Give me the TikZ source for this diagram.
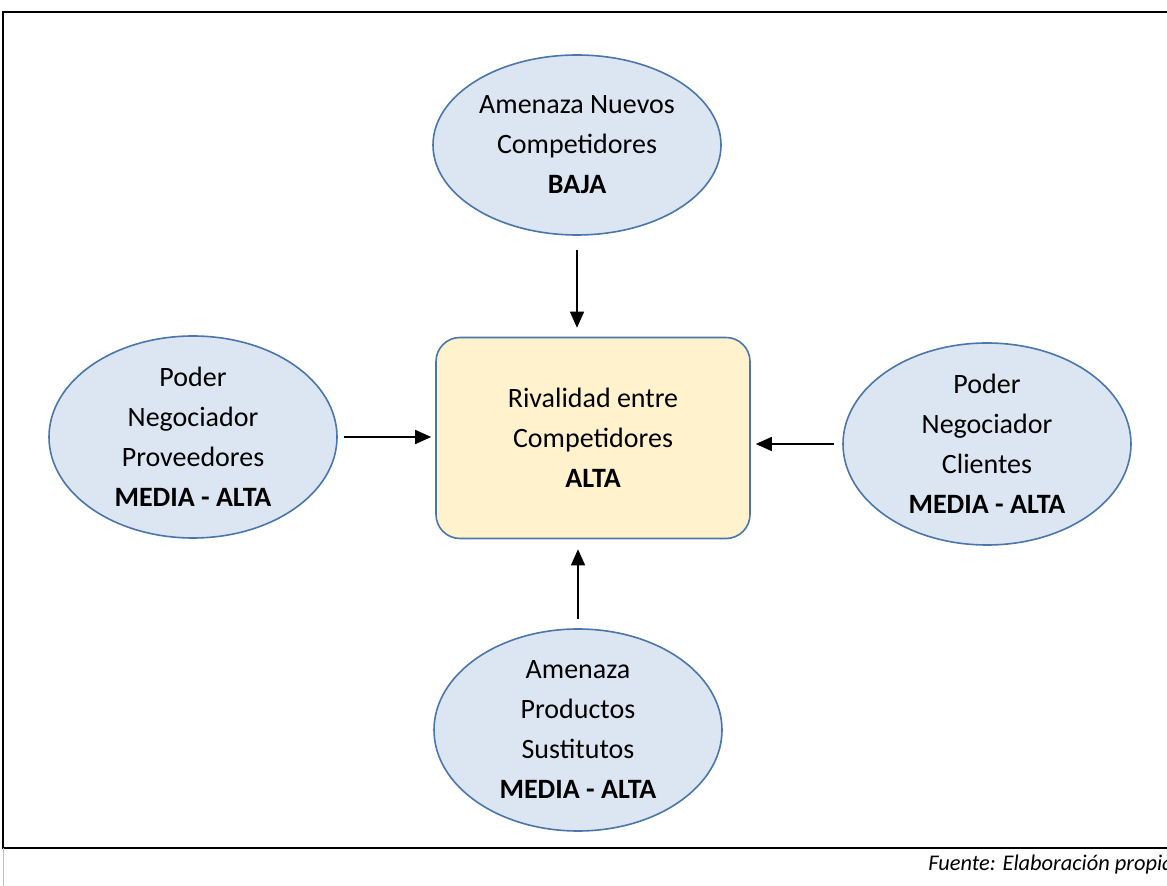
\documentclass[tikz,border=0pt]{standalone}
\usepackage{fontspec}
\setmainfont{Carlito}
\usetikzlibrary{arrows.meta,shapes.geometric}
\definecolor{elfill}{RGB}{220,230,242}
\definecolor{eldraw}{RGB}{74,118,170}
\definecolor{boxfill}{RGB}{255,242,204}

\begin{document}
\begin{tikzpicture}[
  x=0.5pt, y=-0.5pt, >={Triangle[length=8pt,width=7pt]},
  f/.style={ellipse, draw=eldraw, line width=0.8pt, fill=elfill, align=center,
            minimum width=144pt, minimum height=101pt, inner sep=0pt,
            font=\fontsize{14}{20}\selectfont},
  r/.style={draw=eldraw, line width=0.8pt, fill=boxfill, rounded corners=12pt,
            align=center, minimum width=157pt, minimum height=100.5pt,
            font=\fontsize{14}{20}\selectfont},
  a/.style={->, line width=0.75pt}]
\useasboundingbox (0,0) rectangle (1167,886);
\draw[line width=0.75pt] (3,12) rectangle (1190,848);
\draw[black!25] (3,848) -- (3,886);
\node[r](rival) at (593,438) {Rivalidad entre\\Competidores\\\textbf{ALTA}};
\node[f, minimum height=90pt](nuevos) at (577,145) {Amenaza Nuevos\\Competidores\\\textbf{BAJA}};
\node[f](prov) at (193,437) {Poder\\Negociador\\Proveedores\\\textbf{MEDIA - ALTA}};
\node[f](cli) at (987,444) {Poder\\Negociador\\Clientes\\\textbf{MEDIA - ALTA}};
\node[f](sust) at (578,730) {Amenaza\\Productos\\Sustitutos\\\textbf{MEDIA - ALTA}};
\draw[a, shorten <=7pt, shorten >=4.5pt](nuevos.south)--(nuevos.south |- rival.north);
\draw[a, shorten <=3pt, shorten >=2pt](prov.east)--(prov.east -| rival.west);
\draw[a, shorten <=4pt, shorten >=2.5pt](cli.west)--(cli.west -| rival.east);
\draw[a, shorten <=4.5pt, shorten >=5pt](sust.north)--(sust.north |- rival.south);
\node[anchor=base west, inner sep=0pt, font=\fontsize{11.2}{13}\selectfont\itshape](fuente) at (928,870) {Fuente: Elaboración propia};
\end{tikzpicture}
\end{document}
